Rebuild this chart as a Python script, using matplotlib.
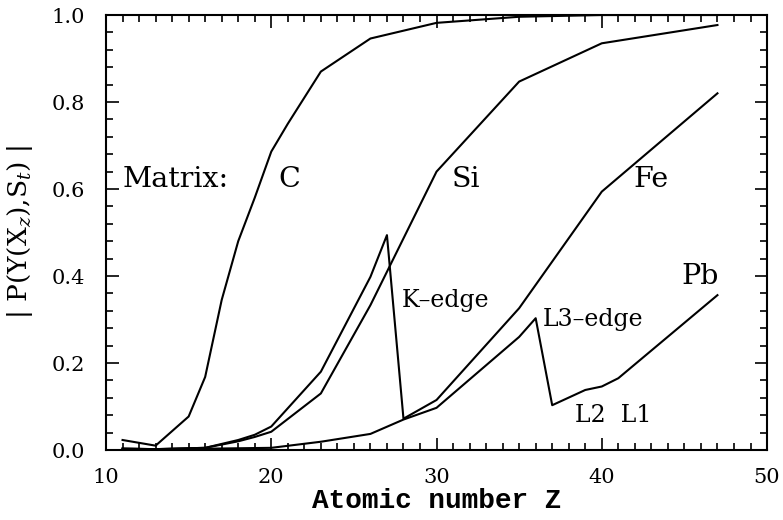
import matplotlib
matplotlib.use("Agg")
import matplotlib.pyplot as plt
from matplotlib.ticker import MultipleLocator

# curves: atomic number Z vs |P(Y(X_z),S_t)|
z_c = [11, 13, 15, 16, 17, 18, 19, 20, 21, 23, 26, 27, 30, 35, 40, 47]
p_c = [0.023, 0.010, 0.077, 0.168, 0.345, 0.48, 0.58, 0.686, 0.75, 0.87,
       0.946, 0.955, 0.982, 0.996, 1.0, 1.0]

z_si = [11, 13, 16, 18, 19, 20, 23, 26, 30, 35, 40, 47]
p_si = [0.003, 0.002, 0.005, 0.020, 0.030, 0.042, 0.13, 0.333, 0.64, 0.847, 0.935, 0.977]

z_fe = [11, 13, 16, 18, 19, 20, 23, 26, 27, 28, 30, 35, 40, 47]
p_fe = [0.003, 0.002, 0.005, 0.023, 0.035, 0.054, 0.18, 0.398, 0.494, 0.072,
        0.115, 0.326, 0.594, 0.82]

z_pb = [11, 13, 16, 20, 23, 26, 28, 30, 35, 36, 37, 39, 40, 41, 47]
p_pb = [0.003, 0.002, 0.003, 0.005, 0.019, 0.037, 0.070, 0.097, 0.26, 0.303,
        0.103, 0.138, 0.146, 0.165, 0.356]

plt.rcParams['font.family'] = ['DejaVu Serif']
plt.rcParams['mathtext.fontset'] = 'dejavuserif'

fig = plt.figure(figsize=(7.83, 5.2), dpi=100)
ax = fig.add_axes([0.1354, 0.1346, 0.8442, 0.8365])

for z, p in [(z_c, p_c), (z_si, p_si), (z_fe, p_fe), (z_pb, p_pb)]:
    ax.plot(z, p, color='black', lw=1.5)

ax.set_xlim(10, 50)
ax.set_ylim(0, 1.0)
ax.xaxis.set_major_locator(MultipleLocator(10))
ax.xaxis.set_minor_locator(MultipleLocator(1))
ax.yaxis.set_major_locator(MultipleLocator(0.2))
ax.yaxis.set_minor_locator(MultipleLocator(0.04))
ax.yaxis.set_major_formatter(plt.FormatStrFormatter('%.1f'))
ax.tick_params(which='both', direction='in', top=True, right=True, width=1.2)
ax.tick_params(which='major', length=9, labelsize=15)
ax.tick_params(axis='x', which='major', pad=13)
ax.tick_params(axis='y', which='major', pad=15)
ax.tick_params(which='minor', length=5)
for s in ax.spines.values():
    s.set_linewidth(1.5)

ax.set_xlabel('Atomic number Z', fontsize=20, family='Liberation Mono',
              fontweight='bold', labelpad=1)
ax.set_ylabel(r'| P(Y(X$_z$),S$_t$) |', fontsize=19)
ax.yaxis.set_label_coords(-0.108, 0.5)

fs = 20.5
ax.text(11.0, 0.623, 'Matrix:', fontsize=fs, va='center')
ax.text(20.4, 0.623, 'C', fontsize=fs, va='center')
ax.text(30.9, 0.623, 'Si', fontsize=fs, va='center')
ax.text(41.9, 0.623, 'Fe', fontsize=fs, va='center')
ax.text(44.8, 0.398, 'Pb', fontsize=fs, va='center')
ax.text(27.9, 0.343, 'K\u2013edge', fontsize=17, va='center')
ax.text(36.4, 0.301, 'L3\u2013edge', fontsize=17, va='center')
ax.text(38.4, 0.080, 'L2  L1', fontsize=17, va='center')

fig.savefig('out.png', dpi=100)
